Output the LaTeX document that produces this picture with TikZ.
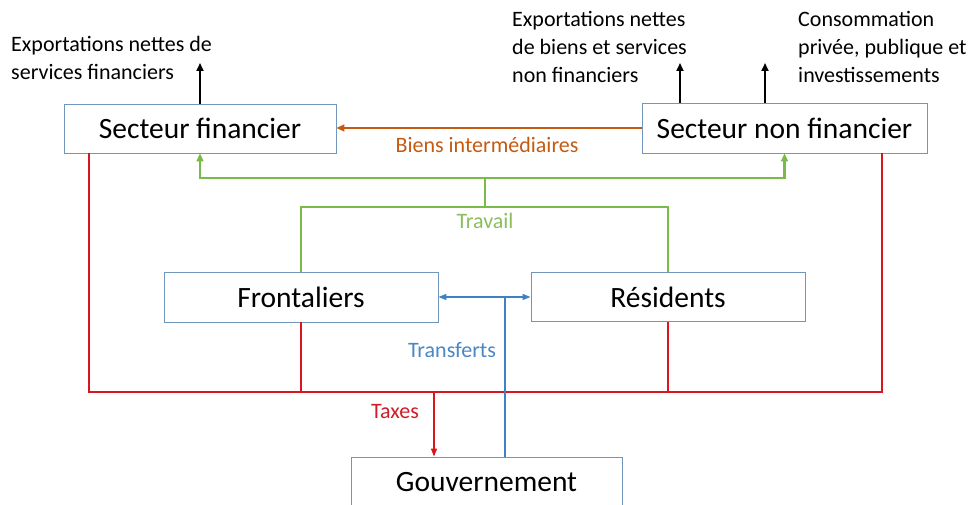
\documentclass[tikz,border=0pt]{standalone}
\usepackage{fontspec}
\setmainfont{Carlito}
\usetikzlibrary{arrows.meta}
\definecolor{boxc}{RGB}{112,150,188}
\definecolor{orgc}{RGB}{197,90,17}
\definecolor{grnc}{RGB}{122,186,72}
\definecolor{grnt}{RGB}{140,190,95}
\definecolor{bluc}{RGB}{62,130,195}
\definecolor{blut}{RGB}{75,135,195}
\definecolor{redc}{RGB}{220,20,30}
\definecolor{redt}{RGB}{205,30,40}
\begin{document}
\begin{tikzpicture}[x=1pt,y=-1pt,
  sector/.style={draw=boxc,line width=0.9pt,fill=white,inner sep=0pt,
    font=\fontsize{29.5}{32}\selectfont},
  txt/.style={inner sep=0pt,anchor=base west,font=\fontsize{22}{28}\selectfont},
  lbl/.style={inner sep=0pt,anchor=base,font=\fontsize{22}{26}\selectfont},
  blk/.style={line width=1.8pt,-{Triangle[length=8pt,width=7pt]}},
  orgline/.style={draw=orgc,line width=1.6pt},
  grnline/.style={draw=grnc,line width=2.2pt},
  redline/.style={draw=redc,line width=1.3pt},
  bluline/.style={draw=bluc,line width=1.3pt},
]
\useasboundingbox[fill=white] (0,0) rectangle (971,505);

% boxes
\node[sector,minimum width=272pt,minimum height=49pt] (sf) at (200,128.5) {Secteur financier};
\node[sector,minimum width=285pt,minimum height=50pt] (snf) at (784.5,128) {Secteur non financier};
\node[sector,minimum width=274pt,minimum height=50pt] (fr) at (301,297) {Frontaliers};
\node[sector,minimum width=274pt,minimum height=49pt] (res) at (668,297) {Résidents};
\node[sector,minimum width=271pt,minimum height=50pt] (gov) at (486.5,482) {Gouvernement};

% top texts
\node[txt] (t1) at (11,52) {\vtop{\hbox{Exportations nettes de}\hbox{services financiers}}};
\node[txt] (t2) at (512,27) {\vtop{\hbox{Exportations nettes}\hbox{de biens et services}\hbox{non financiers}}};
\node[txt] (t3) at (798,27) {\vtop{\hbox{Consommation}\hbox{privée, publique et}\hbox{investissements}}};

% free ends
\coordinate (e1) at (200,63);
\coordinate (e2) at (680,63);
\coordinate (e3) at (765,63);
\coordinate (gj1) at (485,178);
\coordinate (gj2) at (485,207);
\coordinate (r1) at (89,392);
\coordinate (r2) at (882,392);
\coordinate (tx) at (434,392);
\coordinate (tr) at (505,297);

% black arrows
\draw[blk] (sf.north) -- (e1);
\draw[blk] (snf.north -| e2) -- (e2);
\draw[blk] (snf.north -| e3) -- (e3);

% intermediate goods
\draw[orgline,-{Triangle[length=8pt,width=7pt]}] (snf.west) -- (sf.east |- snf.west);
\node[lbl,text=orgc] (lb) at (487,153) {Biens intermédiaires};

% labour
\draw[grnline] (fr.north) |- (gj2) -| (res.north);
\draw[grnline] (gj2) -- (gj1);
\draw[grnline,-{Triangle[length=8pt,width=7pt]}] (gj1) -| (sf.south);
\draw[grnline,-{Triangle[length=8pt,width=7pt]}] (gj1) -| (snf.south);
\node[lbl,text=grnt] (lt) at (485,228) {Travail};

% taxes
\draw[redline] (sf.south -| r1) -- (r1) -- (r2) -- (snf.south -| r2);
\draw[redline] (fr.south) -- (fr.south |- r1);
\draw[redline] (res.south) -- (res.south |- r1);
\draw[redline,-{Triangle[length=8pt,width=6pt]}] (tx) -- (gov.north -| tx);
\node[lbl,text=redt] (lx) at (395,418) {Taxes};

% transfers
\draw[bluline,{Triangle[length=8pt,width=6pt]}-{Triangle[length=8pt,width=6pt]}] (fr.east) -- (res.west);
\draw[bluline] (gov.north -| tr) -- (tr);
\node[lbl,text=blut] (lf) at (452,357) {Transferts};
\end{tikzpicture}
\end{document}
